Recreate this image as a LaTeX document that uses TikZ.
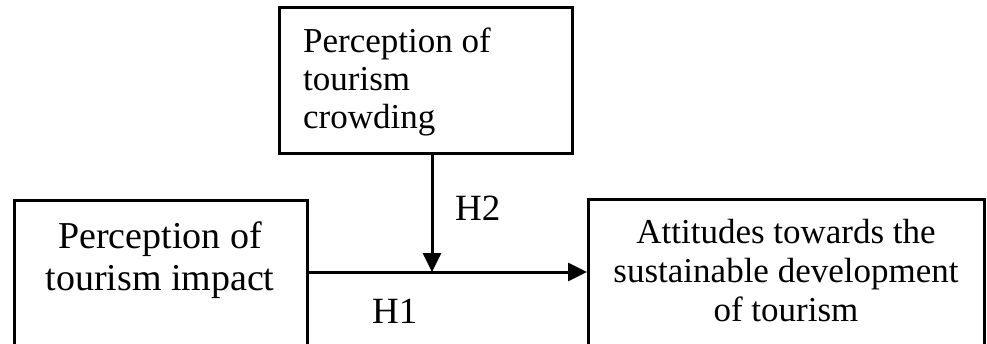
\documentclass[tikz,border=0pt]{standalone}
\usepackage{fontspec}
\setmainfont{Liberation Serif}
\usetikzlibrary{arrows.meta}
\begin{document}
\begin{tikzpicture}[x=1pt,y=-1pt,
  box/.style={draw, line width=3pt, inner sep=0pt, anchor=north west},
  lbl/.style={inner sep=0pt, anchor=base},
  conn/.style={line width=3pt, -{Triangle[length=19pt,width=18pt]}}]
\useasboundingbox (0,0) rectangle (987,343);
\clip (0,0) rectangle (987,343);
\node[box, minimum width=293pt, minimum height=146pt] (tbox) at (278,6) {};
\node[box, minimum width=293pt, minimum height=180pt] (lbox) at (13,199) {};
\node[box, minimum width=396pt, minimum height=180pt] (rbox) at (587,198) {};
\node[lbl, align=left, anchor=base west, font=\fontsize{35}{38}\selectfont] (ttext) at (303,128) {Perception of\\tourism\\crowding};
\node[lbl, align=center, font=\fontsize{38}{42}\selectfont] (ltext) at (160,290) {Perception of\\tourism impact};
\node[lbl, align=center, font=\fontsize{35}{39}\selectfont] (rtext) at (786,321) {Attitudes towards the\\sustainable development\\of tourism};
\node[lbl, anchor=base west, font=\fontsize{37}{40}\selectfont] (h2) at (455,220) {H2};
\node[lbl, anchor=base west, font=\fontsize{37}{40}\selectfont] (h1) at (372,323) {H1};
\coordinate (j) at (432,272);
\draw[conn] (tbox.south -| j) -- (j);
\draw[conn] (lbox.east |- j) -- (rbox.west |- j);
\end{tikzpicture}
\end{document}
